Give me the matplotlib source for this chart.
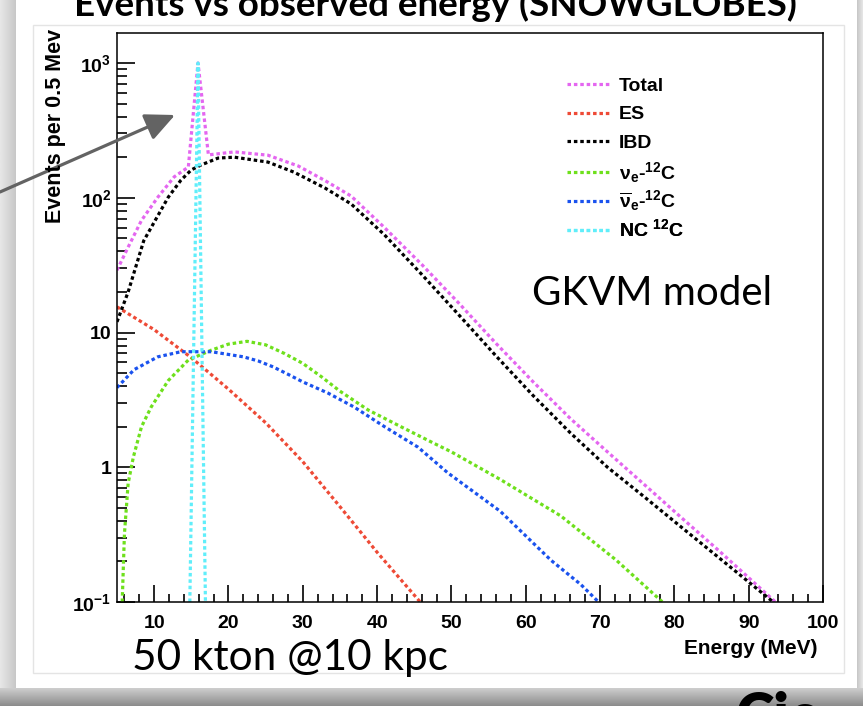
import numpy as np
import matplotlib
matplotlib.use("Agg")
import matplotlib.pyplot as plt
from matplotlib.patches import Rectangle
from matplotlib.lines import Line2D
from matplotlib.ticker import LogLocator, MultipleLocator, NullFormatter, FuncFormatter

plt.rcParams.update({
    "font.family": ["Liberation Sans", "DejaVu Sans"],
    "font.weight": "bold",
    "mathtext.fontset": "custom",
    "mathtext.rm": "Liberation Sans",
    "mathtext.bf": "Liberation Sans:bold",
    "mathtext.it": "Liberation Sans:italic",
})

# ---- event spectra (events per 0.5 MeV vs observed energy in MeV) ----
e_total = [5, 6.5, 8.3, 10.5, 12.7, 14.6, 15.9, 17.3, 20.8, 25.3, 29.4, 33, 36.5, 41,
           46, 51, 56, 61, 66, 71, 76, 81, 86, 93.6]
n_total = [29, 43, 68, 101, 143, 169, 1000, 208, 219, 207, 172, 134, 103, 60,
           32, 16.5, 8.3, 4.3, 2.3, 1.3, 0.74, 0.42, 0.24, 0.1]

e_es = [5, 10, 15, 20, 25, 30, 35, 40, 45.8]
n_es = [15.5, 10.5, 6.5, 3.8, 2.14, 1.10, 0.51, 0.234, 0.1]

e_ibd = [5, 6.5, 8.6, 11.9, 13.6, 15, 16.3, 18.6, 20.8, 25.3, 28.8, 33, 36.5, 41,
         46, 51, 56, 61, 66, 71, 76, 81, 86, 93.3]
n_ibd = [12, 20, 48, 101, 135, 161, 175, 197, 200, 184, 155, 118, 90, 53,
         27, 13.5, 6.7, 3.4, 1.8, 1.0, 0.6, 0.357, 0.213, 0.1]

e_nue = [5.7, 6.0, 6.5, 7.2, 8.3, 9.6, 11.9, 14.6, 17.7, 20, 22.5, 25, 27.5, 30, 32.5,
         35, 38.8, 43.2, 47.6, 50, 56.6, 64.7, 72.2, 78.4]
n_nue = [0.1, 0.32, 0.76, 1.19, 2.0, 2.8, 4.4, 6.25, 7.4, 8.2, 8.6, 8.1, 7.0, 5.9, 4.7,
         3.67, 2.66, 2.0, 1.51, 1.30, 0.81, 0.436, 0.204, 0.1]

e_nuebar = [5, 7.3, 10.5, 13.6, 17.7, 22, 24, 26, 28, 30, 33.4, 36.9, 41, 45.5,
            49.5, 56.6, 63.4, 67.4, 69.8]
n_nuebar = [3.9, 5.3, 6.6, 7.2, 7.2, 6.6, 6.15, 5.56, 4.9, 4.3, 3.55, 2.8, 2.0, 1.41,
            0.91, 0.47, 0.204, 0.135, 0.1]

e_nc = [14.8, 15.9, 16.9]
n_nc = [0.1, 1000, 0.1]

series = [
    ("Total", e_total, n_total, "#e466f0"),
    ("ES", e_es, n_es, "#ee4a36"),
    ("IBD", e_ibd, n_ibd, "black"),
    (r"$\mathrm{\nu}_{\mathbf{e}}$-$^{\mathbf{12}}$C", e_nue, n_nue, "#6ee01c"),
    (r"$\overline{\mathrm{\nu}}_{\mathbf{e}}$-$^{\mathbf{12}}$C", e_nuebar, n_nuebar, "#1a52ee"),
    (r"NC $^{\mathbf{12}}$C", e_nc, n_nc, "#60eefa"),
]
DOTS = dict(lw=2.3, ls=(0, (1.1, 0.9)), dash_capstyle="butt")

W, H = 863, 706
fig = plt.figure(figsize=(W / 100, H / 100), dpi=100)


def pixel_axes(z):
    a = fig.add_axes([0, 0, 1, 1], zorder=z)
    a.axis("off")
    return a


# ---- slide card behind the plot ----
bg = pixel_axes(0)
side = np.linspace(0.90, 0.78, 16)[None, :]
bg.imshow(side, cmap="gray", vmin=0, vmax=1, extent=(0, 16, 688, 0), aspect="auto")
bg.imshow(side[:, ::-1], cmap="gray", vmin=0, vmax=1, extent=(857, 863, 688, 0), aspect="auto")
foot = np.linspace(0.80, 0.55, 18)[:, None]
bg.imshow(foot, cmap="gray", vmin=0, vmax=1, extent=(0, 863, 706, 688), aspect="auto")
bg.add_patch(Rectangle((16, 0), 841, 688, fc="white", ec="none"))
bg.add_patch(Rectangle((33, 25), 811, 648, fc="none", ec="#e4e4e4", lw=1))
bg.text(435, 16, "Events vs observed energy (SNOWGLOBES)", ha="center", va="baseline",
        fontsize=26.5, fontweight="bold", family=["Lato", "DejaVu Sans"])
bg.text(132, 670, "50 kton @10 kpc", ha="left", va="baseline", fontsize=30.5,
        fontweight="normal", family=["Lato", "DejaVu Sans"])
bg.text(735, 691, "Cie", ha="left", va="top", fontsize=42, fontweight="heavy",
        family=["Lato", "DejaVu Sans"], color="black")
bg.set_xlim(0, W); bg.set_ylim(H, 0)

# ---- spectra ----
ax = fig.add_axes([117 / W, 1 - 602 / H, (823 - 117) / W, (602 - 33) / H], zorder=1)
for label, e, n, c in series:
    ax.plot(e, n, color=c, label=label, **DOTS)
ax.set_yscale("log")
ax.set_xlim(5, 100)
ax.set_ylim(0.1, 1670)

ax.xaxis.set_major_locator(MultipleLocator(10))
ax.xaxis.set_minor_locator(MultipleLocator(2))
ax.yaxis.set_major_locator(LogLocator(base=10))
ax.yaxis.set_minor_locator(LogLocator(base=10, subs=np.arange(2, 10)))
ax.yaxis.set_minor_formatter(NullFormatter())


def ylab(v, pos):
    k = int(round(np.log10(v)))
    return {0: "1", 1: "10"}.get(k, rf"$\mathbf{{10^{{{k}}}}}$")


ax.yaxis.set_major_formatter(FuncFormatter(ylab))
ax.tick_params(which="both", direction="in", top=False, right=False, width=1.2,
               labelsize=14)
ax.tick_params(axis="x", which="major", length=12, pad=9)
ax.tick_params(axis="x", which="minor", length=6)
ax.tick_params(axis="y", which="major", length=13, pad=4)
ax.tick_params(axis="y", which="minor", length=7)
for s in ax.spines.values():
    s.set_linewidth(1.1)

# one legend row per series, evenly spaced like the ROOT TLegend
row_top, row_step = 0.907, 0.0505
for i, (label, _, _, c) in enumerate(series):
    leg = ax.legend([Line2D([], [], color=c, **DOTS)], [label], loc="center left",
                    bbox_to_anchor=(0.637, row_top - i * row_step), frameon=False,
                    fontsize=14, borderpad=0, borderaxespad=0, handlelength=2.2,
                    handletextpad=0.5)
    ax.add_artist(leg)

# ---- annotations on top ----
ov = pixel_axes(2)
ov.set_xlim(0, W); ov.set_ylim(H, 0)
ov.annotate("", xy=(175, 115), xytext=(0, 192),
            arrowprops=dict(arrowstyle="-|>,head_length=0.9,head_width=0.42",
                            mutation_scale=20, color="#636363", lw=2.3,
                            shrinkA=0, shrinkB=0))
ov.text(532, 305, "GKVM model", ha="left", va="baseline", fontsize=29,
        fontweight="normal", family=["Lato", "DejaVu Sans"])
ov.text(55, 29, "Events per 0.5 Mev", rotation=90, ha="center", va="top", fontsize=15.5)
ov.text(817, 648, "Energy (MeV)", ha="right", va="center", fontsize=15)

fig.savefig("out.png", dpi=100)
